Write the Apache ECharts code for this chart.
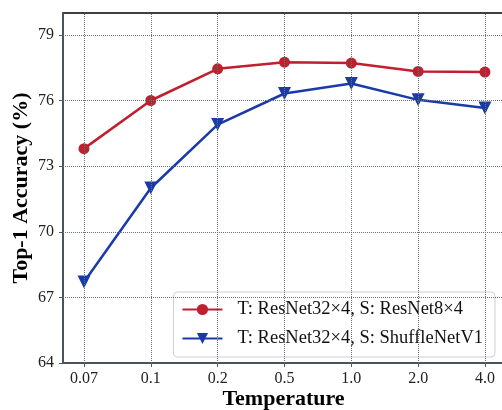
<!DOCTYPE html>
<html>
<head>
<meta charset="utf-8">
<script src="https://cdn.jsdelivr.net/npm/echarts@6/dist/echarts.min.js"></script>
<style>
  html, body { margin: 0; padding: 0; background: #fff; }
  #chart { width: 502px; height: 410px; }
</style>
</head>
<body>
<div id="chart"></div>
<script>
const temperatures = ['0.07', '0.1', '0.2', '0.5', '1.0', '2.0', '4.0'];
const resnet8Acc = [73.8, 76.0, 77.45, 77.75, 77.71, 77.33, 77.3];
const shuffleAcc = [67.7, 72.0, 74.9, 76.32, 76.78, 76.03, 75.66];
const yTicks = [64, 67, 70, 73, 76, 79];
const seriesNames = ['T: ResNet32×4, S: ResNet8×4', 'T: ResNet32×4, S: ShuffleNetV1'];

const xIdx = temperatures.map((t, i) => i);
const serif = 'Liberation Serif';
const gridStyle = { color: '#66737f', width: 1, type: [1, 1] };

const chart = echarts.init(document.getElementById('chart'));

chart.setOption({
    animation: false,
    grid: {
        left: 63,
        right: -2,
        top: 13,
        bottom: 47,
        outerBoundsMode: 'none',
        show: true,
        borderColor: '#000',
        borderWidth: 1.5
    },
    legend: {
        data: seriesNames,
        orient: 'vertical',
        right: 7,
        top: 292,
        itemWidth: 40,
        itemHeight: 14,
        itemGap: 10,
        padding: [8, 12, 9, 8],
        borderColor: '#cfcfcf',
        borderWidth: 1,
        borderRadius: 4,
        backgroundColor: 'rgba(255,255,255,0.8)',
        textStyle: {
            fontFamily: serif,
            fontSize: 18.5,
            color: '#111',
            padding: [0, 0, 0, 10]
        }
    },
    xAxis: {
        type: 'value',
        min: -0.314,
        max: 6.285,
        name: 'Temperature',
        nameLocation: 'middle',
        nameGap: 25,
        nameMoveOverlap: false,
        nameTextStyle: { fontFamily: serif, fontSize: 22, fontWeight: 'bold', color: '#000' },
        axisLine: { onZero: false, lineStyle: { color: '#4f5b66', width: 1.5 } },
        axisTick: { show: true, length: 4, customValues: xIdx, lineStyle: { color: '#4f5b66' } },
        axisLabel: {
            customValues: xIdx,
            margin: 8,
            fontFamily: serif,
            fontSize: 16,
            color: '#222',
            formatter: v => temperatures[Math.round(v)]
        },
        splitLine: { show: false }
    },
    yAxis: {
        type: 'value',
        min: 64,
        max: 80,
        name: 'Top-1 Accuracy (%)',
        nameLocation: 'middle',
        nameGap: 31,
        nameMoveOverlap: false,
        nameTextStyle: { fontFamily: serif, fontSize: 22, fontWeight: 'bold', color: '#000' },
        axisLine: { show: true, onZero: false, lineStyle: { color: '#4f5b66', width: 1.5 } },
        axisTick: { show: true, length: 4, customValues: yTicks, lineStyle: { color: '#4f5b66' } },
        axisLabel: {
            customValues: yTicks,
            margin: 9,
            fontFamily: serif,
            fontSize: 16,
            color: '#222'
        },
        splitLine: { show: false }
    },
    series: [
        {
            name: 'grid',
            type: 'line',
            data: [],
            z: 1,
            silent: true,
            markLine: {
                silent: true,
                symbol: 'none',
                label: { show: false },
                lineStyle: gridStyle,
                data: xIdx.map(i => ({ xAxis: i })).concat(
                    yTicks.slice(1).map(v => ({ yAxis: v })))
            }
        },
        {
            name: seriesNames[0],
            type: 'line',
            z: 3,
            data: resnet8Acc.map((v, i) => [i, v]),
            color: '#c01f2f',
            symbol: 'circle',
            symbolSize: 11,
            lineStyle: { width: 2.5 }
        },
        {
            name: seriesNames[1],
            type: 'line',
            z: 3,
            data: shuffleAcc.map((v, i) => [i, v]),
            color: '#1b3aa9',
            symbol: 'triangle',
            symbolRotate: 180,
            symbolSize: 13,
            lineStyle: { width: 2.5 }
        }
    ]
});
</script>
</body>
</html>
